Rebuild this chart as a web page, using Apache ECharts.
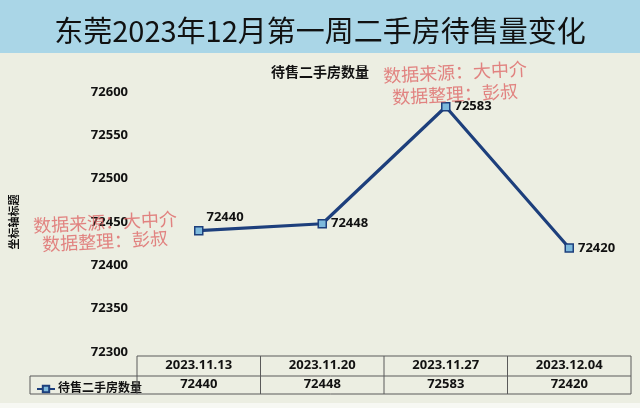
<!DOCTYPE html>
<html><head><meta charset="utf-8">
<script src="https://cdn.jsdelivr.net/npm/echarts@6/dist/echarts.min.js"></script>
<style>html,body{margin:0;padding:0;background:#eceee2;}#c{width:640px;height:408px;}</style>
</head><body><div id="c"></div>
<script>
const mainTitle = '东莞2023年12月第一周二手房待售量变化';
const seriesName = '待售二手房数量';
const categories = ['2023.11.13', '2023.11.20', '2023.11.27', '2023.12.04'];
const values = [72440, 72448, 72583, 72420];
const yMin = 72300, yMax = 72600, yStep = 50;
const yAxisTitle = '坐标轴标题';
const watermarkLines = ['数据来源：大中介', '数据整理：彭叔'];

const G = {left: 137, right: 9, top: 92, bottom: 56};
const W = 640, H = 408;
const gx0 = G.left, gx1 = W - G.right;
const rowTop = 356, rowMid = 376, rowBot = 394;
const FONT = '"Noto Sans","Noto Sans CJK SC",sans-serif';
const LINE = '#1d3f7c';

const chart = echarts.init(document.getElementById('c'), null, {renderer: 'canvas'});

const n = categories.length;
const cw = (gx1 - gx0) / n;
const tableLines = [];
const bc = '#5a5a5a';
function ln(x1, y1, x2, y2) {
  tableLines.push({type: 'line', silent: true, z: 5,
    shape: {x1, y1, x2, y2}, style: {stroke: bc, lineWidth: 1}});
}
ln(gx0, rowTop, gx1, rowTop);
ln(30, rowMid, gx1, rowMid);
ln(30, rowBot, gx1, rowBot);
ln(30, rowMid, 30, rowBot);
for (let i = 0; i <= n; i++) ln(gx0 + i * cw, rowTop, gx0 + i * cw, rowBot);

const wmColor = 'rgba(222,100,100,0.78)';
function wm(cx, cy1, cy2) {
  return [
    {type: 'text', x: cx, y: cy1, rotation: 0.05, z: 20, silent: true,
      style: {text: watermarkLines[0], fill: wmColor, font: '18px "Noto Sans CJK SC",serif', align: 'center', verticalAlign: 'middle'}},
    {type: 'text', x: cx, y: cy2, rotation: 0.05, z: 20, silent: true,
      style: {text: watermarkLines[1], fill: wmColor, font: '18px "Noto Sans CJK SC",serif', align: 'center', verticalAlign: 'middle'}}
  ];
}

const option = {
  animation: false,
  backgroundColor: '#eceee2',
  title: [
    {text: mainTitle, left: 'center', top: 11,
      textStyle: {fontFamily: '"Noto Sans CJK SC",serif', fontSize: 29, fontWeight: 'normal', color: '#111'}},
    {text: seriesName, left: 'center', top: 61,
      textStyle: {fontFamily: FONT, fontSize: 14, fontWeight: 'bold', color: '#111'}}
  ],
  legend: {
    data: [seriesName], left: 31, top: 378, itemWidth: 18, itemHeight: 8, itemGap: 4,
    textStyle: {fontFamily: FONT, fontSize: 12, fontWeight: 'bold', color: '#111', padding: [0, 0, 0, -2]}
  },
  grid: {left: G.left, right: G.right, top: G.top, bottom: G.bottom},
  xAxis: [
    {type: 'category', data: categories, position: 'bottom', boundaryGap: true,
      axisLine: {show: false}, axisTick: {show: false},
      axisLabel: {margin: 7, fontFamily: FONT, fontSize: 13, fontWeight: 'bold', color: '#111'}},
    {type: 'category', data: values.map(String), position: 'bottom', offset: 19, boundaryGap: true,
      axisLine: {show: false}, axisTick: {show: false},
      axisLabel: {margin: 7, fontFamily: FONT, fontSize: 13, fontWeight: 'bold', color: '#111'}}
  ],
  yAxis: {
    type: 'value', min: yMin, max: yMax, interval: yStep,
    name: yAxisTitle, nameLocation: 'middle', nameGap: 117, nameRotate: 90,
    nameTextStyle: {fontFamily: FONT, fontSize: 11, fontWeight: 'bold', color: '#111'},
    axisLine: {show: false}, axisTick: {show: false}, splitLine: {show: false},
    axisLabel: {margin: 9, fontFamily: FONT, fontSize: 13, fontWeight: 'bold', color: '#111',
      formatter: v => String(v)}
  },
  series: [{
    name: seriesName, type: 'line', xAxisIndex: 0,
    data: values.map((v, i) => i === 0 ? {value: v, label: {offset: [-1, -13]}} : v),
    symbol: 'rect', symbolSize: 8,
    lineStyle: {color: LINE, width: 3.2},
    itemStyle: {color: '#7db9dc', borderColor: LINE, borderWidth: 1.5},
    label: {show: true, position: 'right', distance: 4, fontFamily: FONT, fontSize: 13, fontWeight: 'bold', color: '#111'},
    z: 3
  }],
  graphic: [
    {type: 'rect', z: -10, silent: true, shape: {x: 0, y: 0, width: W, height: 53}, style: {fill: '#aad6e7'}},
    {type: 'rect', z: -10, silent: true, shape: {x: 0, y: 403, width: W, height: 5}, style: {fill: '#f7f8f3'}},
    ...tableLines,
    ...wm(105, 222, 241),
    ...wm(455, 72, 94)
  ]
};
chart.setOption(option);
</script>
</body></html>
